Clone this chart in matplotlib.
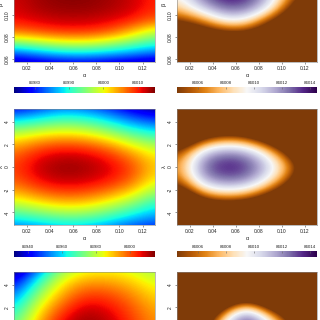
import numpy as np
import matplotlib
matplotlib.use("Agg")
import matplotlib.pyplot as plt
from matplotlib.colors import Normalize

plt.rcParams['font.family'] = ['Liberation Sans', 'DejaVu Sans']

# ---------------- data ----------------
alpha_nodes = [0.01, 0.03, 0.05, 0.07, 0.09, 0.11, 0.13]
beta_nodes = [0.125, 0.115, 0.105, 0.095, 0.085, 0.075, 0.065, 0.055]   # top -> bottom
lambda_nodes = [6, 4.5, 3, 1.5, 0, -1.5, -3, -4.5, -6]                  # top -> bottom
lambda3_nodes = [6, 4.5, 3, 1.5, 0, -1.5]                                # top -> bottom

# row 1 (alpha x beta)
loglik_ab_left = [
    [84012.1, 84013.8, 84014.6, 84014.6, 84013.8, 84012.5, 84009.3],
    [84012.1, 84013.8, 84014.6, 84014.6, 84013.8, 84012.5, 84009.7],
    [84011.7, 84013.4, 84014.0, 84014.0, 84013.4, 84012.1, 84009.3],
    [84010.5, 84011.7, 84012.5, 84012.5, 84011.7, 84010.1, 84006.8],
    [84006.4, 84008.0, 84009.3, 84009.3, 84008.0, 84003.5, 83997.8],
    [83994.9, 83997.4, 83999.4, 83999.8, 83997.8, 83994.5, 83991.2],
    [83982.2, 83985.1, 83987.5, 83987.9, 83986.7, 83985.1, 83983.0],
    [83974.8, 83975.6, 83976.5, 83976.9, 83976.0, 83974.8, 83974.0],
]
loglik_ab_right = [
    [84009.5, 84012.5, 84014.0, 84013.7, 84011.3, 84006.0, 84001.0],
    [84009.0, 84012.3, 84013.8, 84013.5, 84011.0, 84005.7, 84000.5],
    [84007.5, 84010.3, 84012.5, 84012.3, 84009.5, 84003.0, 83997.5],
    [84004.5, 84006.5, 84009.7, 84009.4, 84005.0, 84000.0, 83993.5],
    [84000.0, 84002.5, 84004.7, 84004.8, 84001.0, 83996.0, 83989.5],
    [83994.5, 83997.5, 83999.5, 83999.5, 83996.0, 83991.5, 83984.5],
    [83989.5, 83992.5, 83994.5, 83994.5, 83991.0, 83986.5, 83979.5],
    [83984.5, 83987.5, 83989.5, 83989.5, 83986.0, 83981.5, 83974.5],
]

# row 2 (alpha x lambda)
loglik_al_left = [
    [83930.3, 83937.0, 83943.6, 83942.0, 83937.0, 83930.3, 83923.7],
    [83952.8, 83957.7, 83962.7, 83961.1, 83955.2, 83946.9, 83942.0],
    [83980.1, 83984.3, 83986.8, 83985.1, 83978.5, 83969.4, 83963.5],
    [83996.7, 84004.2, 84007.5, 84006.7, 84001.7, 83991.8, 83983.5],
    [84002.6, 84010.9, 84014.2, 84013.3, 84010.0, 84003.4, 83990.1],
    [83998.4, 84005.9, 84009.2, 84008.4, 84005.0, 83998.4, 83983.5],
    [83983.5, 83989.3, 83993.4, 83992.6, 83986.8, 83978.5, 83966.9],
    [83963.5, 83966.9, 83970.2, 83970.2, 83965.2, 83958.6, 83953.6],
    [83942.0, 83946.1, 83949.4, 83948.6, 83945.3, 83940.3, 83938.6],
]
loglik_al_right = [
    [83974.5, 83979.5, 83979.5, 83979.5, 83976.5, 83972.5, 83966.5],
    [83984.5, 83990.5, 83992.5, 83991.5, 83987.5, 83982.5, 83976.5],
    [83994.5, 84001.5, 84004.0, 84003.0, 83998.5, 83992.5, 83985.5],
    [84004.7, 84010.5, 84012.1, 84011.5, 84008.3, 84002.0, 83992.5],
    [84006.7, 84012.8, 84014.2, 84013.7, 84011.1, 84007.0, 83999.5],
    [84005.0, 84010.8, 84012.1, 84011.7, 84008.7, 84003.5, 83993.5],
    [83996.5, 84004.0, 84005.5, 84004.7, 84001.0, 83995.5, 83987.5],
    [83986.5, 83992.5, 83994.5, 83993.5, 83990.5, 83985.5, 83978.5],
    [83976.5, 83980.5, 83982.5, 83981.5, 83978.5, 83974.5, 83968.5],
]

# row 3 (partly visible)
loglik_r3_left = [
    [83884.0, 83914.0, 83951.8, 83963.3, 83966.7, 83964.4, 83957.5],
    [83909.0, 83944.0, 83972.5, 83982.8, 83982.8, 83978.2, 83969.0],
    [83928.8, 83963.3, 83985.1, 83999.1, 83997.8, 83989.7, 83978.2],
    [83946.0, 83978.2, 83998.9, 84011.5, 84007.0, 83996.6, 83985.1],
    [83957.5, 83986.3, 84009.3, 84013.9, 84010.4, 84000.1, 83987.4],
    [83946.0, 83978.2, 83998.9, 84011.5, 84007.0, 83996.6, 83985.1],
]
loglik_r3_right = [
    [83964.5, 83969.5, 83974.5, 83976.5, 83974.5, 83969.5, 83964.5],
    [83974.5, 83979.5, 83986.5, 83988.5, 83986.5, 83979.5, 83974.5],
    [83984.5, 83989.5, 83997.5, 84002.0, 83996.5, 83991.5, 83984.5],
    [83992.5, 83998.5, 84008.0, 84013.5, 84007.5, 84001.5, 83992.5],
    [83996.5, 84002.5, 84011.5, 84014.0, 84012.0, 84005.0, 83996.5],
    [83992.5, 83998.5, 84008.0, 84013.5, 84007.5, 84001.5, 83992.5],
]

cb_left1_ticks = [83980, 83990, 84000, 84010]
cb_left2_ticks = [83940, 83960, 83980, 84000]
cb_right_ticks = [84006, 84008, 84010, 84012, 84014]
x_ticks = [0.02, 0.04, 0.06, 0.08, 0.10, 0.12]
x_ticklabels = ["0.02", "0.04", "0.06", "0.08", "0.10", "0.12"]
beta_ticks = [0.06, 0.08, 0.10]
beta_ticklabels = ["0.06", "0.08", "0.10"]
lambda_ticks = [-4, -2, 0, 2, 4]
lambda_ticklabels = ["-4", "-2", "0", "2", "4"]
lambda3_ticks = [2, 4]
lambda3_ticklabels = ["2", "4"]

# ---------------- layout ----------------
W = H = 320
fig = plt.figure(figsize=(3.2, 3.2), dpi=100)

def pos(x, ytop, w, h):
    return [x / W, 1 - (ytop + h) / H, w / W, h / H]

TXT = '#222222'
TFS = 3.5
CFS = 3.2

def extent_of(xn, yn):
    dx = xn[1] - xn[0]
    dy = abs(yn[0] - yn[1])
    return [xn[0] - dx / 2, xn[-1] + dx / 2, min(yn) - dy / 2, max(yn) + dy / 2]

def panel(rect, data, ynodes, cmap, norm, ylim, yticks, yticklabels, ylabel,
          show_x=True):
    ax = fig.add_axes(rect)
    ax.imshow(np.array(data), cmap=cmap, norm=norm, origin='upper',
              extent=extent_of(alpha_nodes, ynodes), aspect='auto',
              interpolation='bicubic', interpolation_stage='data')
    ax.set_xlim(0.0088, 0.1308)
    ax.set_ylim(*ylim)
    ax.set_yticks(yticks)
    ax.set_yticklabels(yticklabels, rotation=90, va='center')
    ax.tick_params(labelsize=TFS, length=1.5, width=0.4, pad=1.5,
                   colors='#444444', labelcolor=TXT)
    for s in ax.spines.values():
        s.set_linewidth(0.4)
        s.set_color('#888888')
    if show_x:
        ax.set_xticks(x_ticks)
        ax.set_xticklabels(x_ticklabels)
        ax.set_xlabel('α', fontsize=TFS + 0.5, color=TXT, labelpad=1.5)
    else:
        ax.set_xticks([])
    if ylabel:
        ax.set_ylabel(ylabel, fontsize=TFS + 0.5, color=TXT, labelpad=0.6)
    return ax

def cbar(rect, cmap, norm, ticks):
    cax = fig.add_axes(rect)
    sm = plt.cm.ScalarMappable(cmap=cmap, norm=norm)
    cb = fig.colorbar(sm, cax=cax, orientation='horizontal')
    cb.set_ticks(ticks)
    cb.set_ticklabels([str(t) for t in ticks])
    cax.xaxis.set_ticks_position('top')
    cax.tick_params(labelsize=CFS, length=1.2, width=0.4, pad=1.5,
                    direction='in', colors='#666666', labelcolor=TXT)
    cb.outline.set_visible(False)
    return cb

jet = plt.get_cmap('jet')
puor = plt.get_cmap('PuOr')

n1L = Normalize(83974, 84015)
n2L = Normalize(83932, 84015)
n3L = Normalize(83900, 84015)
nR = Normalize(84004.5, 84014.5)

XL, WL = 14, 141
XR, WR = 177, 140
PH = 116

ylim1 = (0.0573, 0.0573 + PH / 22 * 0.02)
ylim2 = (-5.1, 5.1)

panel(pos(XL, -54, WL, PH), loglik_ab_left, beta_nodes, jet, n1L, ylim1,
      beta_ticks, beta_ticklabels, 'β')
panel(pos(XR, -54, WR, PH), loglik_ab_right, beta_nodes, puor, nR, ylim1,
      beta_ticks, beta_ticklabels, 'β')
cbar(pos(XL, 87, WL, 6), jet, n1L, cb_left1_ticks)
cbar(pos(XR, 87, WR, 6), puor, nR, cb_right_ticks)

panel(pos(XL, 109, WL, PH), loglik_al_left, lambda_nodes, jet, n2L, ylim2,
      lambda_ticks, lambda_ticklabels, 'λ')
panel(pos(XR, 109, WR, PH), loglik_al_right, lambda_nodes, puor, nR, ylim2,
      lambda_ticks, lambda_ticklabels, 'λ')
cbar(pos(XL, 251, WL, 5.5), jet, n2L, cb_left2_ticks)
cbar(pos(XR, 251, WR, 5.5), puor, nR, cb_right_ticks)

# bottom row: only its top part lies inside the picture
panel(pos(XL, 272, WL, PH), loglik_r3_left, lambda3_nodes, jet, n3L, ylim2,
      lambda3_ticks, lambda3_ticklabels, None, show_x=False)
panel(pos(XR, 272, WR, PH), loglik_r3_right, lambda3_nodes, puor, nR, ylim2,
      lambda3_ticks, lambda3_ticklabels, None, show_x=False)

fig.savefig('out.png', dpi=100)
